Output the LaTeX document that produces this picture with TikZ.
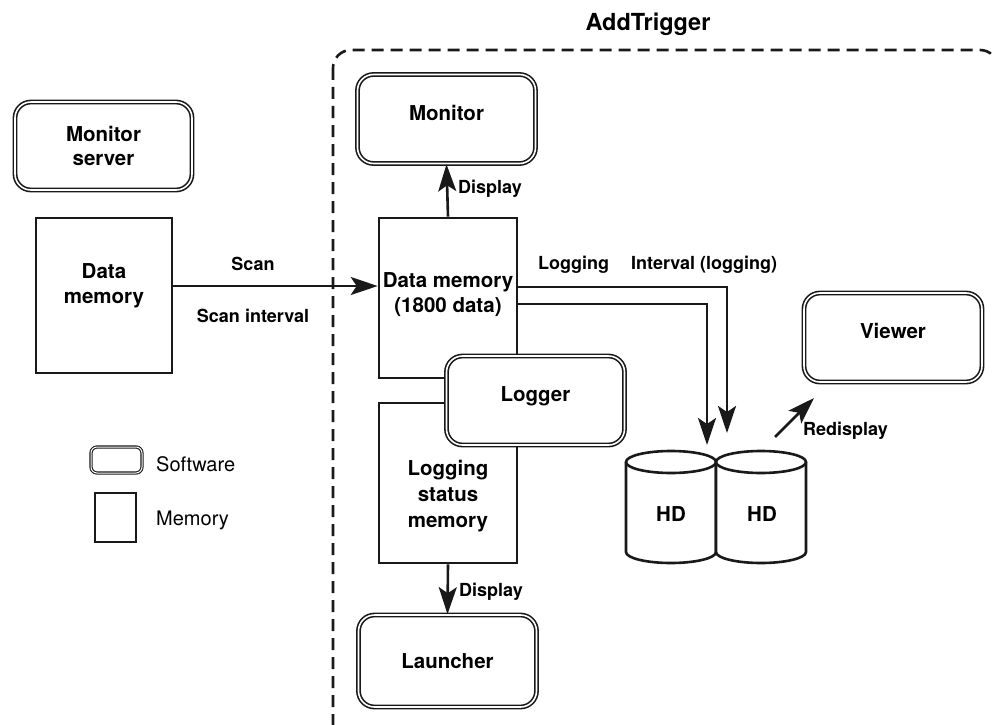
\documentclass[tikz,border=0pt]{standalone}
\usepackage{fontspec}
\setmainfont{TeX Gyre Heros}
\usetikzlibrary{arrows.meta}
\tikzset{
  sw/.style={draw=black!90, line width=1.6pt, double=white, double distance=1.6pt, rounded corners=16pt, fill=white, minimum width=178pt, minimum height=89pt, inner sep=0pt, align=center, font=\fontsize{20.5}{24}\selectfont\bfseries},
  mem/.style={draw=black!90, line width=2.6pt, fill=white, minimum width=136pt, minimum height=158pt, inner sep=0pt},
  btext/.style={align=center, font=\fontsize{20.5}{25}\selectfont\bfseries, inner sep=0pt},
  lbl/.style={font=\fontsize{18}{21}\selectfont\bfseries, inner sep=0pt},
  arr/.style={draw=black!90, line width=2.6pt, -{Stealth[length=27pt, width=18pt, inset=6pt]}},
  cyl/.style={draw=black!90, line width=2.6pt, fill=white},
  leg/.style={font=\fontsize{20}{24}\selectfont, inner sep=0pt, anchor=west}
}
\begin{document}
\begin{tikzpicture}[x=1pt, y=-1pt]
\useasboundingbox (0,0) rectangle (994,725);
% dashed AddTrigger frame
\begin{scope}
\clip (0,0) rectangle (994,725);
\draw[black!90, line width=2.6pt, dash pattern=on 12pt off 7pt, rounded corners=18pt] (333,50) rectangle (998,742);
\end{scope}
\node[lbl, font=\fontsize{23.5}{27}\selectfont\bfseries] (title) at (648,24) {AddTrigger};

% left side
\node[sw, minimum width=177pt, minimum height=88pt] (msrv) at (103.5,146) {Monitor\\server};
\node[mem, minimum width=136pt, minimum height=155pt] (dml) at (104,295.5) {};
\node[btext] (dmlt) at (104,286) {Data\\memory};

% centre column
\node[sw] (mon) at (446.5,119) {Monitor\\[-12pt]};
\node[mem, minimum width=138pt, minimum height=160pt] (dmc) at (448,298) {};
\node[btext] (dmct) at (448,295) {Data memory\\(1800 data)};
\node[mem, minimum width=138pt, minimum height=160pt] (lsm) at (448,483) {};
\node[btext, font=\fontsize{20.5}{26}\selectfont\bfseries] (lsmt) at (448,496) {Logging\\status\\memory};
\node[sw] (logr) at (535.5,400.5) {Logger\\[-12pt]};
\node[sw, minimum height=92pt] (laun) at (447.5,661) {Launcher};

% viewer
\node[sw] (view) at (893,337.5) {Viewer\\[-10pt]};

% HD cylinders
\draw[cyl] (626,462) -- (626,552) arc[start angle=180, end angle=0, x radius=45, y radius=11] -- (716,462);
\draw[cyl] (671,462) ellipse[x radius=45, y radius=11];
\draw[cyl] (716,462) -- (716,552) arc[start angle=180, end angle=0, x radius=45, y radius=11] -- (806,462);
\draw[cyl] (761,462) ellipse[x radius=45, y radius=11];
\node[btext] (hd1) at (671,514) {HD};
\node[btext] (hd2) at (762,514) {HD};

% connectors
\draw[arr] (dml.east |- 0,286) -- (dmc.west |- 0,286);
\node[lbl] (scan) at (253,264) {Scan};
\node[lbl] (scani) at (253,316) {Scan interval};

\draw[arr] (dmc.north) -- (mon.south);
\node[lbl, anchor=west] (disp1) at (458,189) {Display};

\draw[arr] (lsm.south) -- (laun.north);
\node[lbl, anchor=west] (disp2) at (459,592) {Display};

\coordinate (hdA) at (727,433);
\coordinate (hdB) at (707,445);
\draw[arr] (dmc.east |- 0,287) -| (hdA);
\draw[arr] (dmc.east |- 0,304) -| (hdB);
\node[lbl, anchor=west] (logg) at (538,265) {Logging};
\node[lbl, anchor=west] (intl) at (631,265) {Interval (logging)};

\coordinate (rdA) at (775,437);
\coordinate (rdB) at (814,398);
\draw[arr] (rdA) -- (rdB);
\node[lbl, anchor=west] (redisp) at (803,431) {Redisplay};

% legend
\node[draw=black!90, line width=1.1pt, double=white, double distance=1pt, rounded corners=6pt, minimum width=51pt, minimum height=26pt, inner sep=0pt] (legsw) at (116.5,460) {};
\node[leg] (legswt) at (156,464) {Software};
\node[draw=black!90, line width=1.2pt, minimum width=41pt, minimum height=49pt, inner sep=0pt] (legmem) at (115.5,517.5) {};
\node[leg] (legmemt) at (156,520) {Memory};
\end{tikzpicture}
\end{document}
